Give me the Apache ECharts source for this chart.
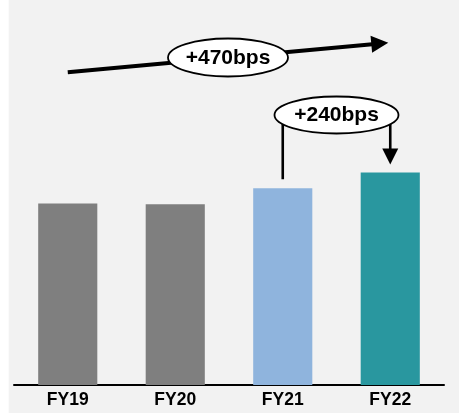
<!DOCTYPE html>
<html>
<head>
<meta charset="utf-8">
<script src="https://cdn.jsdelivr.net/npm/echarts@6/dist/echarts.min.js"></script>
<style>
  html, body { margin: 0; padding: 0; background: #fff; }
  #chart { width: 459px; height: 413px; }
</style>
</head>
<body>
<div id="chart"></div>
<script>
// Margin by fiscal year (%)
const categories = ['FY19', 'FY20', 'FY21', 'FY22'];
const margins = [27.5, 27.4, 29.8, 32.2];
const barColors = ['#7f7f7f', '#7f7f7f', '#8fb4dd', '#29979f'];

const FONT = '"Liberation Sans", Arial, Helvetica, sans-serif';

function bpsLabel(from, to) {
  const bps = Math.round((to - from) * 100);
  return (bps >= 0 ? '+' : '') + bps + 'bps';
}

const chart = echarts.init(document.getElementById('chart'), null, { renderer: 'canvas' });

chart.setOption({
  animation: false,
  backgroundColor: '#f2f2f2',
  grid: { left: 14, right: 15, top: 55, bottom: 28 },
  xAxis: {
    type: 'category',
    data: categories,
    axisLine: { lineStyle: { color: '#000', width: 2 } },
    axisTick: { show: false },
    axisLabel: { color: '#000', fontSize: 17.5, fontWeight: 'bold', fontFamily: FONT, margin: 6 }
  },
  yAxis: { type: 'value', min: 0, max: 50, show: false, splitLine: { show: false } },
  series: [{
    type: 'bar',
    barWidth: '55%',
    data: margins.map((v, i) => ({ value: v, itemStyle: { color: barColors[i] } }))
  }]
});

// Annotations placed from the bar geometry
const tops = margins.map((v, i) => chart.convertToPixel({ seriesIndex: 0 }, [i, v]));
const first = 0, last = margins.length - 1, prev = margins.length - 2;

const elements = [];

// white strip on the left edge
elements.push({ type: 'rect', shape: { x: 0, y: 0, width: 8.7, height: 413 }, style: { fill: '#fff' }, z: 0 });

// overall trend arrow (first year -> last year)
const start = [tops[first][0], 72.3];
const tip = [tops[last][0] - 2, 42.7];
const dx = tip[0] - start[0], dy = tip[1] - start[1];
const len = Math.hypot(dx, dy);
const ux = dx / len, uy = dy / len;
const nx = -uy, ny = ux;
const headLen = 17, headHalf = 8.5;
const hb = [tip[0] - ux * headLen, tip[1] - uy * headLen];
elements.push({
  type: 'line', z: 100,
  shape: { x1: start[0], y1: start[1], x2: hb[0] + ux, y2: hb[1] + uy },
  style: { stroke: '#000', lineWidth: 4 }
});
elements.push({
  type: 'polygon', z: 100,
  shape: { points: [[hb[0] + nx * headHalf, hb[1] + ny * headHalf], tip, [hb[0] - nx * headHalf, hb[1] - ny * headHalf]] },
  style: { fill: '#000' }
});
const c1 = [(start[0] + tip[0]) / 2, (start[1] + tip[1]) / 2];
elements.push({
  type: 'ellipse', z: 101,
  shape: { cx: c1[0], cy: c1[1], rx: 60, ry: 19 },
  style: { fill: '#fff', stroke: '#000', lineWidth: 1.8 }
});
elements.push({
  type: 'text', z: 102, x: c1[0], y: c1[1] + 0.5,
  style: {
    text: bpsLabel(margins[first], margins[last]),
    fill: '#000', font: 'bold 21px ' + FONT,
    align: 'center', verticalAlign: 'middle', textAlign: 'center', textVerticalAlign: 'middle'
  }
});

// year-over-year bracket (previous year -> last year)
const xa = tops[prev][0], xb = tops[last][0];
const cy2 = 115;
const downTip = tops[last][1] - 8;
const downBase = downTip - 16;
elements.push({
  type: 'polyline', z: 100,
  shape: { points: [[xa, tops[prev][1] - 9], [xa, cy2], [xb, cy2], [xb, downBase + 1]] },
  style: { stroke: '#000', lineWidth: 2.6, fill: null }
});
elements.push({
  type: 'polygon', z: 100,
  shape: { points: [[xb - 8, downBase], [xb + 8, downBase], [xb, downTip]] },
  style: { fill: '#000' }
});
const c2 = [(xa + xb) / 2, cy2];
elements.push({
  type: 'ellipse', z: 101,
  shape: { cx: c2[0], cy: c2[1], rx: 62, ry: 18.5 },
  style: { fill: '#fff', stroke: '#000', lineWidth: 1.8 }
});
elements.push({
  type: 'text', z: 102, x: c2[0], y: c2[1] + 0.5,
  style: {
    text: bpsLabel(margins[prev], margins[last]),
    fill: '#000', font: 'bold 21px ' + FONT,
    align: 'center', verticalAlign: 'middle', textAlign: 'center', textVerticalAlign: 'middle'
  }
});

chart.setOption({ graphic: { elements: elements } });
</script>
</body>
</html>
